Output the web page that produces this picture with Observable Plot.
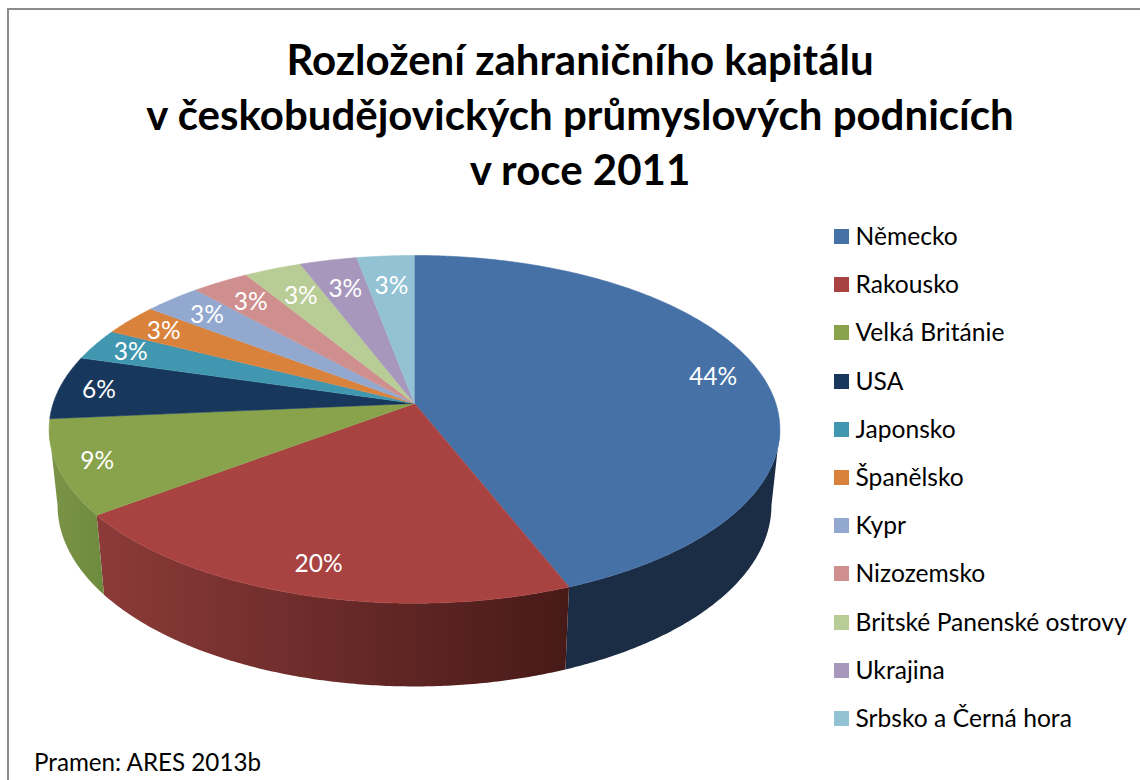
<!DOCTYPE html>
<html lang="cs">
<head>
<meta charset="utf-8">
<script src="https://cdn.jsdelivr.net/npm/d3@7"></script>
<script src="https://cdn.jsdelivr.net/npm/@observablehq/plot@0.6"></script>
<style>
  html, body { margin: 0; padding: 0; background: #fff; }
  #page { position: relative; width: 1140px; height: 780px; overflow: hidden; font-family: Lato, sans-serif; color: #000; }
  #frame { position: absolute; left: 7px; top: 8px; width: 1140px; height: 790px; border-left: 2px solid #8c8c8c; border-top: 2px solid #8c8c8c; }
  h1 { position: absolute; left: 20px; top: 32px; width: 1120px; margin: 0; text-align: center; font-size: 42px; line-height: 55.2px; font-weight: 700; letter-spacing: 0; }
  #chart { position: absolute; left: 0; top: 220px; }
  #legend { position: absolute; left: 834px; top: 212px; }
  .item { position: relative; height: 48.2px; white-space: nowrap; font-size: 24.6px; line-height: 48.2px; letter-spacing: 0.02px; }
  .item i { position: absolute; left: 0; top: 17px; width: 15px; height: 15px; }
  .item span { position: absolute; left: 21.5px; top: 0; }
  #source { position: absolute; left: 34px; top: 747px; font-size: 24.2px; line-height: 30px; }
</style>
</head>
<body>
<div id="page">
  <div id="frame"></div>
  <h1></h1>
  <div id="chart"></div>
  <div id="legend"></div>
  <div id="source"></div>
</div>
<script>
const titleLines = ["Rozložení zahraničního kapitálu", "v českobudějovických průmyslových podnicích", "v roce 2011"];
const source = "Pramen: ARES 2013b";
const countries = ["Německo", "Rakousko", "Velká Británie", "USA", "Japonsko", "Španělsko", "Kypr", "Nizozemsko", "Britské Panenské ostrovy", "Ukrajina", "Srbsko a Černá hora"];
const shares = [44.0, 20.8, 8.8, 5.9, 2.93, 2.93, 2.93, 2.93, 2.93, 2.93, 2.93];
const shareLabels = ["44%", "20%", "9%", "6%", "3%", "3%", "3%", "3%", "3%", "3%", "3%"];
const topColors = ["#4571a7", "#a84342", "#88a34b", "#17375d", "#4197af", "#d9823c", "#92a8cf", "#cf8f8e", "#b8cc95", "#a897bc", "#92c2d4"];
const wallShades = [["#1b2d44", "#1b2d44"], ["#8c3b39", "#471a18"], ["#7b9447", "#6d8b3e"]];

// How far out along its radius each label sits (1 = the rim)
const labelReach = [0.865, 0.835, 0.89, 0.89, 0.89, 0.883, 0.858, 0.845, 0.803, 0.803, 0.80];

// Perspective of the tilted disc, in plot units
const persp = 0.149;
const topDisc = {a: 0.998, b: 1, dy: 0};
const bottomDisc = {a: 0.975, b: 1.041, dy: -0.441};
const rad = Math.PI / 180;
const project = (deg, disc, reach = 1) => {
  const s = Math.sin(deg * rad), c = Math.cos(deg * rad), w = 1 + persp * c;
  return {x: reach * disc.a * s / w, y: disc.dy + reach * disc.b * c / w};
};
const arc = (from, to, disc) => {
  const n = Math.max(2, Math.ceil(Math.abs(to - from) * 2));
  return d3.range(n + 1).map(i => project(from + (to - from) * i / n, disc));
};

const total = d3.sum(shares);
const ends = [0, ...d3.cumsum(shares, d => d)].map(v => v / total * 360);
const slices = countries.map((name, i) => ({name, i, from: ends[i], to: ends[i + 1], mid: (ends[i] + ends[i + 1]) / 2}));

const topPoints = slices.flatMap(s => [{x: 0, y: 0}, ...arc(s.from, s.to, topDisc)].map(p => ({...p, name: s.name})));

const visibleFrom = 98.6, visibleTo = 261.4;
const wallPolys = slices.filter((s, i) => i < wallShades.length).map(s => {
  const from = Math.max(s.from, visibleFrom), to = Math.min(s.to, visibleTo);
  return {id: `wall-${s.i}`, points: [...arc(from, to, topDisc), ...arc(to, from, bottomDisc)]};
});

const labelPoints = slices.map(s => ({...project(s.mid, topDisc, labelReach[s.i]), text: shareLabels[s.i]}));

const gradients = () => {
  const defs = d3.create("svg:defs");
  wallShades.forEach(([left, right], i) => {
    const g = defs.append("linearGradient").attr("id", `wall-${i}`).attr("x1", 0).attr("x2", 1).attr("y1", 0).attr("y2", 0);
    g.append("stop").attr("offset", 0).attr("stop-color", left);
    g.append("stop").attr("offset", 1).attr("stop-color", right);
  });
  return defs.node();
};

const chart = Plot.plot({
  width: 828,
  height: 480,
  margin: 0,
  style: {background: "transparent", fontFamily: "Lato, sans-serif"},
  x: {domain: [-1.1436, 1.1436], range: [0, 828], axis: null},
  y: {domain: [1.076, -1.747], range: [0, 480], axis: null},
  color: {domain: countries, range: topColors},
  marks: [
    gradients,
    ...wallPolys.map(w => Plot.line(w.points, {x: "x", y: "y", fill: `url(#${w.id})`, stroke: "none"})),
    Plot.line(topPoints, {x: "x", y: "y", z: "name", fill: "name", stroke: "name", strokeWidth: 0.6}),
    Plot.text(labelPoints, {x: "x", y: "y", text: "text", fill: "#fff", fontSize: 24.5, textAnchor: "middle", lineAnchor: "middle", dy: 1})
  ]
});
document.getElementById("chart").append(chart);

document.querySelector("h1").innerHTML = titleLines.join("<br>");
document.getElementById("source").textContent = source;
const legend = d3.select("#legend").selectAll("div").data(countries).join("div").attr("class", "item");
legend.append("i").style("background", (d, i) => topColors[i]);
legend.append("span").text(d => d);
</script>
</body>
</html>
